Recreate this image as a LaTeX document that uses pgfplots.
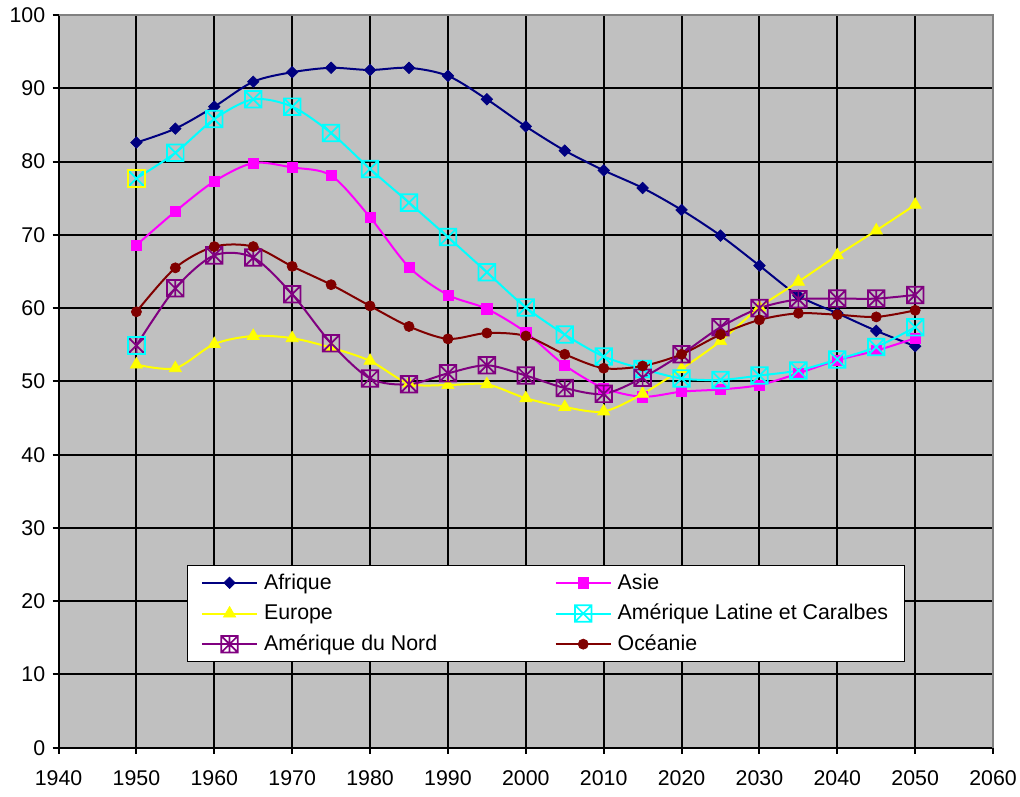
\documentclass[border=0pt]{standalone}
\usepackage{fontspec}
\setmainfont{Liberation Sans}
\usepackage{pgfplots}
\usepackage{pgfplotstable}
\pgfplotsset{compat=1.18}
\definecolor{plotbg}{HTML}{C0C0C0}
\definecolor{afr}{HTML}{000080}
\definecolor{asi}{HTML}{FF00FF}
\definecolor{eur}{HTML}{FFFF00}
\definecolor{lat}{HTML}{00FFFF}
\definecolor{nor}{HTML}{800080}
\definecolor{oce}{HTML}{800000}
\definecolor{framegray}{HTML}{808080}

\pgfdeclareplotmark{mydiamond}{%
  \pgfpathmoveto{\pgfqpoint{0pt}{\pgfplotmarksize}}%
  \pgfpathlineto{\pgfqpoint{\pgfplotmarksize}{0pt}}%
  \pgfpathlineto{\pgfqpoint{0pt}{-\pgfplotmarksize}}%
  \pgfpathlineto{\pgfqpoint{-\pgfplotmarksize}{0pt}}%
  \pgfpathclose\pgfusepathqfillstroke}
\pgfdeclareplotmark{boxx}{%
  \pgfpathrectangle{\pgfqpoint{-\pgfplotmarksize}{-\pgfplotmarksize}}{\pgfqpoint{2\pgfplotmarksize}{2\pgfplotmarksize}}%
  \pgfpathmoveto{\pgfqpoint{-\pgfplotmarksize}{-\pgfplotmarksize}}%
  \pgfpathlineto{\pgfqpoint{\pgfplotmarksize}{\pgfplotmarksize}}%
  \pgfpathmoveto{\pgfqpoint{-\pgfplotmarksize}{\pgfplotmarksize}}%
  \pgfpathlineto{\pgfqpoint{\pgfplotmarksize}{-\pgfplotmarksize}}%
  \pgfusepathqstroke}
\pgfdeclareplotmark{boxast}{%
  \pgfpathrectangle{\pgfqpoint{-\pgfplotmarksize}{-\pgfplotmarksize}}{\pgfqpoint{2\pgfplotmarksize}{2\pgfplotmarksize}}%
  \pgfpathmoveto{\pgfqpoint{-\pgfplotmarksize}{-\pgfplotmarksize}}%
  \pgfpathlineto{\pgfqpoint{\pgfplotmarksize}{\pgfplotmarksize}}%
  \pgfpathmoveto{\pgfqpoint{-\pgfplotmarksize}{\pgfplotmarksize}}%
  \pgfpathlineto{\pgfqpoint{\pgfplotmarksize}{-\pgfplotmarksize}}%
  \pgfpathmoveto{\pgfqpoint{0pt}{-\pgfplotmarksize}}%
  \pgfpathlineto{\pgfqpoint{0pt}{\pgfplotmarksize}}%
  \pgfusepathqstroke}

\pgfplotstableread{
year afr asi eur lat nor oce
1950 82.6 68.6 52.3 77.7 54.9 59.5
1955 84.5 73.2 51.8 81.2 62.7 65.5
1960 87.5 77.3 55.1 85.8 67.2 68.4
1965 90.9 79.8 56.2 88.5 66.9 68.4
1970 92.2 79.2 55.9 87.5 61.9 65.7
1975 92.8 78.1 54.6 83.9 55.2 63.2
1980 92.5 72.4 52.8 79.0 50.4 60.3
1985 92.8 65.6 49.7 74.4 49.6 57.5
1990 91.7 61.8 49.5 69.7 51.1 55.8
1995 88.5 59.9 49.6 64.9 52.2 56.6
2000 84.8 56.7 47.7 60.1 50.8 56.2
2005 81.5 52.2 46.5 56.4 49.1 53.7
2010 78.8 49.1 45.9 53.4 48.3 51.8
2015 76.4 47.9 48.3 51.7 50.5 52.1
2020 73.4 48.6 51.7 50.4 53.7 53.7
2025 69.9 48.9 55.5 50.2 57.4 56.4
2030 65.8 49.5 60.1 50.8 60.0 58.4
2035 61.7 51.1 63.6 51.5 61.2 59.3
2040 59.3 52.9 67.2 53.0 61.3 59.1
2045 56.9 54.2 70.6 54.7 61.3 58.8
2050 54.8 55.9 74.1 57.4 61.8 59.7
}\data

\begin{document}
\begin{tikzpicture}
\useasboundingbox (0,0) rectangle (765pt,597pt);
\begin{axis}[
  at={(43.9pt,36.2pt)}, anchor=south west,
  scale only axis, width=700.9pt, height=549.5pt,
  xmin=1940, xmax=2060, ymin=0, ymax=100,
  xtick={1940,1950,...,2060}, ytick={0,10,...,100},
  axis x line*=bottom, axis y line*=left,
  axis line style={black, line width=1.5pt},
  tick align=outside, major tick length=4.5pt,
  every tick/.style={black, line width=1.5pt},
  grid=major, major grid style={black, line width=1.5pt},
  axis background/.style={fill=plotbg},
  /pgf/number format/1000 sep={},
  /pgf/number format/assume math mode=true,
  tick label style={font=\fontsize{16}{19}\selectfont},
  xticklabel style={yshift=-9pt},
  yticklabel style={xshift=-2pt},
  legend columns=2,
  legend cell align=left,
  legend image code/.code={\draw[mark repeat=2,mark phase=2] plot coordinates {(0pt,0pt) (20.8pt,0pt) (41.6pt,0pt)};},
  legend style={at={(0.1375,0.2494)}, anchor=north west,
    draw=black, line width=0.75pt, fill=white,
    font=\fontsize{16}{19}\selectfont,
    inner xsep=10pt, inner ysep=1.5pt, row sep=0pt, column sep=2.3pt,
    nodes={inner sep=2pt, text height=14.25pt, text depth=4.75pt},
    /tikz/column 2/.style={column sep=86pt}},
  clip=false,
]
\addplot[afr, line width=1.5pt, smooth, mark=mydiamond, mark size=4.3pt, mark options={fill=afr, line width=0.5pt}] table[x=year,y=afr]{\data};
\addlegendentry{Afrique}
\addplot[asi, line width=1.5pt, smooth, mark=square*, mark size=3.8pt, mark options={fill=asi, line width=0.5pt}] table[x=year,y=asi]{\data};
\addlegendentry{Asie}
\addplot[eur, line width=1.5pt, smooth, mark=triangle*, mark size=5.3pt, mark options={fill=eur, line width=0.5pt}] table[x=year,y=eur]{\data};
\addlegendentry{Europe}
\addplot[lat, line width=1.5pt, smooth, mark=boxx, mark size=6.2pt, mark options={line width=1.3pt}] table[x=year,y=lat]{\data};
\addlegendentry{Amérique Latine et Caralbes}
\addplot[nor, line width=1.5pt, smooth, mark=boxast, mark size=6.2pt, mark options={line width=1.3pt}] table[x=year,y=nor]{\data};
\addlegendentry{Amérique du Nord}
\addplot[oce, line width=1.5pt, smooth, mark=*, mark size=3.8pt, mark options={fill=oce, line width=0.5pt}] table[x=year,y=oce]{\data};
\addlegendentry{Océanie}
\addplot[forget plot, only marks, mark=square, mark size=6.2pt, mark options={draw=eur, line width=1.3pt}] coordinates {(1950,77.7)};
\addplot[forget plot, only marks, mark=square, mark size=6.2pt, mark options={draw=lat, line width=1.3pt}] coordinates {(1950,54.9)};
\draw[framegray, line width=1.5pt] (rel axis cs:0,1) -- (rel axis cs:1,1) -- (rel axis cs:1,0);
\end{axis}
\end{tikzpicture}
\end{document}
